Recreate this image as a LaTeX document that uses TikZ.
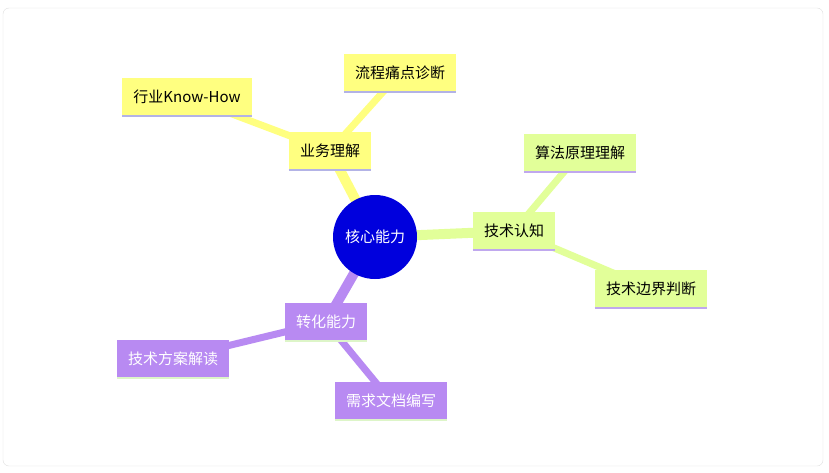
\documentclass[tikz,border=0pt]{standalone}
\usepackage{fontspec}
\setmainfont{Noto Sans CJK SC}
\definecolor{ye}{HTML}{FFFF80}
\definecolor{gr}{HTML}{E2FF99}
\definecolor{pu}{HTML}{B88AF2}
\definecolor{yl}{HTML}{B3B3E6}
\definecolor{gl}{HTML}{C0A8EE}
\definecolor{pl}{HTML}{DDF5C8}
\definecolor{root}{HTML}{0000DD}
\begin{document}
\begin{tikzpicture}[x=1pt,y=-1pt,
  box/.style={inner xsep=11pt,minimum height=38pt,font=\fontsize{15}{17}\selectfont,text=black},
  yb/.style={box,fill=ye,append after command={(\tikzlastnode.south west) edge[yl,line width=2.5pt] (\tikzlastnode.south east)}},
  gb/.style={box,fill=gr,append after command={(\tikzlastnode.south west) edge[gl,line width=2.5pt] (\tikzlastnode.south east)}},
  pb/.style={box,fill=pu,append after command={(\tikzlastnode.south west) edge[pl,line width=2.5pt] (\tikzlastnode.south east)}},
  main/.style={line width=10pt},
  sub/.style={line width=7pt}]
\useasboundingbox (0,0) rectangle (829,473);
\draw[gray!25,rounded corners=6pt,fill=white] (3,8) rectangle (823,466);
\coordinate (r) at (375,237);
\coordinate (a) at (330,151);
\coordinate (a1) at (187,97);
\coordinate (a2) at (400,73);
\coordinate (b) at (514,231);
\coordinate (b1) at (580,153);
\coordinate (b2) at (651,289);
\coordinate (c) at (326,322);
\coordinate (c1) at (173,359);
\coordinate (c2) at (391,401);
\draw[ye,sub] (a)--(a1) (a)--(a2);
\draw[gr,sub] (b)--(b1) (b)--(b2);
\draw[pu,sub] (c)--(c1) (c)--(c2);
\draw[ye,main] (r)--(a);
\draw[gr,main] (r)--(b);
\draw[pu,main] (r)--(c);
\node[yb] (na) at (a) {业务理解};
\node[yb] (na1) at (a1) {行业Know-How};
\node[yb] (na2) at (a2) {流程痛点诊断};
\node[gb] (nb) at (b) {技术认知};
\node[gb] (nb1) at (b1) {算法原理理解};
\node[gb] (nb2) at (b2) {技术边界判断};
\node[pb,text=white] (nc) at (c) {转化能力};
\node[pb,text=white] (nc1) at (c1) {技术方案解读};
\node[pb,text=white] (nc2) at (c2) {需求文档编写};
\node[circle,fill=root,minimum size=84pt,inner sep=0pt,text=white,font=\fontsize{15}{17}\selectfont] (nr) at (r) {核心能力};
\end{tikzpicture}
\end{document}
